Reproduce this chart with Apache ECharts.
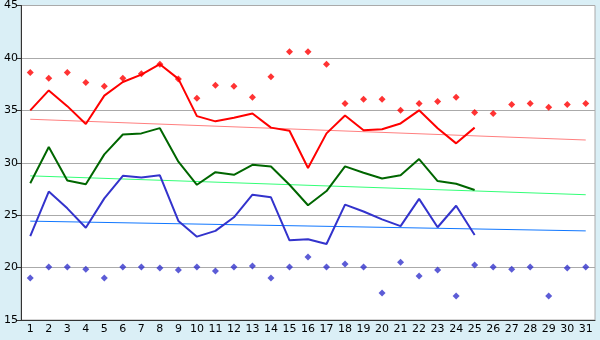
<!DOCTYPE html>
<html>
<head>
<meta charset="utf-8">
<script src="https://cdn.jsdelivr.net/npm/echarts@6/dist/echarts.min.js"></script>
<style>
  html, body { margin: 0; padding: 0; background: #daeff6; }
  #main { width: 600px; height: 340px; }
</style>
</head>
<body>
<div id="main"></div>
<script>
const days = ['1', '2', '3', '4', '5', '6', '7', '8', '9', '10', '11', '12', '13', '14', '15', '16',
  '17', '18', '19', '20', '21', '22', '23', '24', '25', '26', '27', '28', '29', '30', '31'];

const redLine = [35.0, 36.9, 35.4, 33.7, 36.4, 37.7, 38.4, 39.4, 38.0, 34.45, 33.95, 34.3, 34.7,
  33.35, 33.05, 29.5, 32.8, 34.5, 33.1, 33.2, 33.75, 35.0, 33.3, 31.85, 33.35];
const greenLine = [28.05, 31.5, 28.3, 27.95, 30.8, 32.7, 32.8, 33.3, 30.1, 27.9, 29.1, 28.85, 29.8,
  29.65, 27.9, 25.95, 27.3, 29.65, 29.05, 28.5, 28.8, 30.35, 28.25, 28.0, 27.4];
const blueLine = [23.0, 27.25, 25.65, 23.8, 26.6, 28.75, 28.6, 28.8, 24.45, 22.95, 23.5, 24.8, 26.95,
  26.7, 22.6, 22.7, 22.25, 26.0, 25.35, 24.6, 23.95, 26.55, 23.85, 25.9, 23.1];

const redPoints = [38.6, 38.05, 38.6, 37.65, 37.3, 38.05, 38.5, 39.4, 38.0, 36.15, 37.4, 37.3, 36.25,
  38.2, 40.6, 40.6, 39.4, 35.65, 36.05, 36.05, 35.0, 35.65, 35.85, 36.25, 34.8, 34.7, 35.55,
  35.65, 35.3, 35.55, 35.65];
const bluePoints = [19.0, 20.05, 20.05, 19.85, 19.0, 20.05, 20.05, 19.95, 19.76, 20.05, 19.67, 20.05,
  20.14, 19.0, 20.05, 21.0, 20.05, 20.33, 20.05, 17.57, 20.52, 19.2, 19.76, 17.29, 20.24, 20.05,
  19.85, 20.05, 17.29, 19.95, 20.05];

// trend lines: end values only (day 1 and day 31)
const redTrend = [34.15, 32.17];
const greenTrend = [28.75, 26.95];
const blueTrend = [24.43, 23.5];

function trendData(ends) {
  const d = days.map(() => null);
  d[0] = ends[0];
  d[days.length - 1] = ends[1];
  return d;
}

const chart = echarts.init(document.getElementById('main'), null, { renderer: 'canvas' });

const lineStyleBase = { width: 2 };

chart.setOption({
  backgroundColor: '#daeff6',
  animation: false,
  grid: {
    left: 21, right: 5, top: 5, bottom: 20,
    show: true,
    backgroundColor: '#ffffff',
    borderColor: '#aaaaaa',
    borderWidth: 1
  },
  xAxis: {
    type: 'category',
    data: days,
    boundaryGap: true,
    axisLine: { lineStyle: { color: '#333', width: 1 } },
    axisTick: { alignWithLabel: true, length: 4, lineStyle: { color: '#333' } },
    axisLabel: { color: '#000', fontFamily: 'DejaVu Sans', fontSize: 11, margin: 4 },
    splitLine: { show: false }
  },
  yAxis: {
    type: 'value',
    min: 15, max: 45, interval: 5,
    axisLine: { show: true, lineStyle: { color: '#333', width: 1 } },
    axisTick: { show: true, length: 4, lineStyle: { color: '#333' } },
    axisLabel: { color: '#000', fontFamily: 'DejaVu Sans', fontSize: 11, margin: 3 },
    splitLine: { lineStyle: { color: '#aaaaaa', width: 1 } }
  },
  series: [
    {
      type: 'line', data: trendData(redTrend), connectNulls: true, symbol: 'none',
      lineStyle: { color: '#ff7f7f', width: 1 }, z: 1
    },
    {
      type: 'line', data: trendData(greenTrend), connectNulls: true, symbol: 'none',
      lineStyle: { color: '#33ff77', width: 1 }, z: 1
    },
    {
      type: 'line', data: trendData(blueTrend), connectNulls: true, symbol: 'none',
      lineStyle: { color: '#1077ff', width: 1 }, z: 1
    },
    {
      type: 'line', data: redLine, symbol: 'none',
      lineStyle: Object.assign({ color: '#ff0000' }, lineStyleBase), z: 2
    },
    {
      type: 'line', data: greenLine, symbol: 'none',
      lineStyle: Object.assign({ color: '#006600' }, lineStyleBase), z: 2
    },
    {
      type: 'line', data: blueLine, symbol: 'none',
      lineStyle: Object.assign({ color: '#3333cc' }, lineStyleBase), z: 2
    },
    {
      type: 'scatter', data: redPoints, symbol: 'diamond', symbolSize: 7,
      itemStyle: { color: '#ff0000' }, z: 3
    },
    {
      type: 'scatter', data: bluePoints, symbol: 'diamond', symbolSize: 7,
      itemStyle: { color: '#3333cc' }, z: 3
    }
  ]
});
</script>
</body>
</html>
